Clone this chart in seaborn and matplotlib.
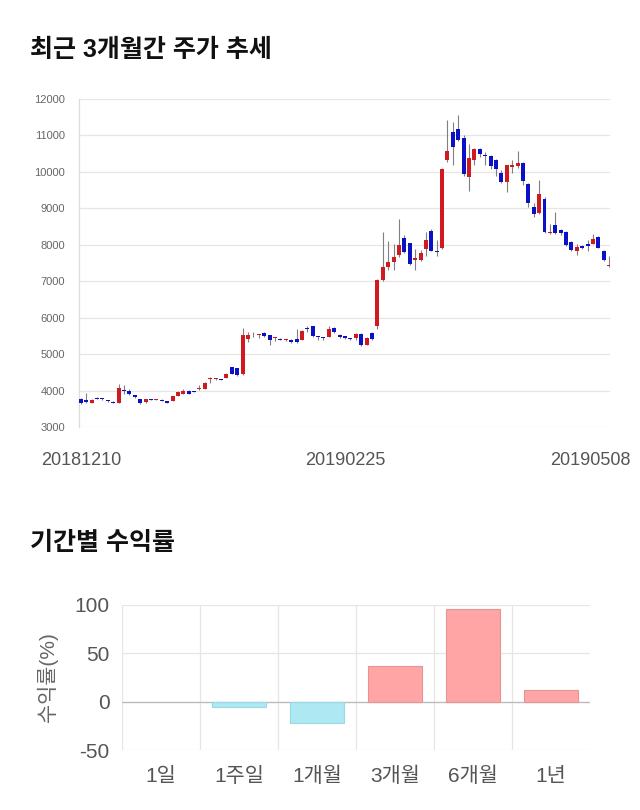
import numpy as np
import pandas as pd
import matplotlib
matplotlib.use("Agg")
import matplotlib.pyplot as plt
import seaborn as sns
from matplotlib.transforms import ScaledTranslation

# ---------------- data: daily candles (index 0 = 20181210 ... 98 = 20190508)
opens = [3770, 3740, 3670, 3800, 3790, 3730, 3690, 3660, 4020, 4000,
         3880, 3770, 3680, 3760, 3745, 3745, 3700, 3710, 3850, 3910,
         4000, 3985, 4050, 4050, 4310, 4320, 4310, 4350, 4640, 4610,
         4450, 5420, 5540, 5520, 5590, 5520, 5430, 5420, 5380, 5400,
         5410, 5390, 5700, 5760, 5490, 5460, 5470, 5720, 5530, 5500,
         5420, 5450, 5560, 5250, 5570, 5780, 7030, 7380, 7520, 7720,
         8180, 8040, 7580, 7590, 7890, 8380, 7820, 7900, 10320, 11090,
         11180, 10940, 9850, 10330, 10620, 10450, 10440, 10330, 9980, 9720,
         10140, 10160, 10240, 9670, 9030, 8870, 9260, 8330, 8530, 8400,
         8360, 8080, 7840, 7960, 8010, 8020, 8220, 7830, 7420]
highs = [3800, 3920, 3760, 3820, 3800, 3740, 3700, 4180, 4150, 4050,
         3890, 3780, 3780, 3780, 3770, 3760, 3710, 3860, 3990, 4030,
         4010, 4000, 4150, 4230, 4360, 4340, 4330, 4480, 4660, 4620,
         5710, 5600, 5600, 5560, 5610, 5530, 5480, 5440, 5420, 5420,
         5700, 5650, 5760, 5780, 5510, 5480, 5760, 5740, 5560, 5510,
         5440, 5580, 5570, 5460, 5620, 7060, 8350, 8100, 8010, 8700,
         8260, 8060, 7890, 7870, 8360, 8420, 8140, 10120, 11420, 11380,
         11560, 11000, 10760, 10650, 10660, 10550, 10460, 10350, 10050, 10200,
         10330, 10570, 10260, 9700, 9150, 9770, 9300, 8580, 8910, 8420,
         8380, 8100, 8020, 8000, 8140, 8300, 8240, 7850, 7700]
lows = [3640, 3650, 3650, 3760, 3750, 3690, 3660, 3650, 3900, 3880,
        3800, 3640, 3670, 3740, 3730, 3700, 3660, 3700, 3840, 3900,
        3900, 3950, 4020, 4040, 4200, 4300, 4280, 4340, 4450, 4400,
        4430, 5330, 5480, 5430, 5480, 5250, 5350, 5380, 5370, 5310,
        5310, 5380, 5620, 5470, 5400, 5380, 5460, 5590, 5450, 5420,
        5390, 5380, 5220, 5240, 5400, 5700, 7000, 7320, 7300, 7660,
        7770, 7450, 7300, 7550, 7680, 7830, 7700, 7880, 10270, 10190,
        10850, 9900, 9480, 10180, 10400, 10190, 10090, 9900, 9700, 9440,
        9980, 10120, 9650, 9050, 8750, 8850, 8330, 8300, 8300, 8280,
        7970, 7820, 7730, 7880, 7840, 8010, 7910, 7550, 7400]
closes = [3660, 3680, 3740, 3770, 3760, 3700, 3670, 4060, 4000, 3910,
          3820, 3660, 3770, 3745, 3755, 3710, 3670, 3850, 3960, 4000,
          3910, 3965, 4070, 4210, 4330, 4325, 4300, 4450, 4460, 4440,
          5520, 5530, 5560, 5540, 5490, 5380, 5460, 5400, 5400, 5340,
          5340, 5630, 5690, 5490, 5480, 5450, 5700, 5600, 5480, 5450,
          5410, 5560, 5250, 5430, 5410, 7040, 7390, 7520, 7660, 8000,
          7810, 7480, 7640, 7770, 8140, 7840, 7790, 10080, 10570, 10680,
          10880, 9940, 10370, 10620, 10500, 10430, 10170, 10080, 9720, 10180,
          10180, 10240, 9740, 9140, 8850, 9390, 8360, 8360, 8320, 8320,
          7990, 7860, 7950, 7920, 7970, 8160, 7920, 7580, 7440]
tick_idx = [0, 49, 98]
tick_labels = ["20181210", "20190225", "20190508"]
price_ticks = [3000, 4000, 5000, 6000, 7000, 8000, 9000, 10000, 11000, 12000]

# ---------------- data: period returns
periods = ["1일", "1주일", "1개월", "3개월", "6개월", "1년"]
returns = [0.0, -5.2, -21.6, 37.1, 95.6, 11.6]
ret_ticks = [-50, 0, 50, 100]

# ---------------- style
sns.set_style("white")
plt.rcParams['font.family'] = ['Liberation Sans', 'Noto Sans CJK KR', 'DejaVu Sans']

RED = "#D11A1F"
BLUE = "#0B12C6"
GRID = "#E6E6E6"

fig = plt.figure(figsize=(6.4, 8.1), dpi=100)
fig.patch.set_facecolor("white")

# ---------------- candlestick chart
df = pd.DataFrame({"open": opens, "high": highs, "low": lows, "close": closes})
df["idx"] = np.arange(len(df))
up = df["close"] >= df["open"]
colors = np.where(up, RED, BLUE)

ax1 = fig.add_axes([79 / 640, 1 - 427 / 810, 531 / 640, 328 / 810])
ax1.vlines(df["idx"], df["low"], df["high"], color="#808080", lw=0.8, zorder=2)
body_bottom = np.minimum(df["open"], df["close"])
body_h = np.maximum((df["close"] - df["open"]).abs(), 25)
ax1.bar(df["idx"], body_h, bottom=body_bottom, width=0.74, color=colors,
        linewidth=0, zorder=3)
ax1.set_ylim(3000, 12000)
ax1.set_xlim(-0.35, 98.15)
ax1.set_yticks(price_ticks)
ax1.set_yticklabels([str(v) for v in price_ticks])
ax1.set_xticks(tick_idx)
ax1.set_xticklabels(tick_labels)
ax1.grid(axis="y", color=GRID, lw=0.9)
ax1.grid(axis="x", visible=False)
ax1.set_axisbelow(True)
for s in ["top", "right", "bottom"]:
    ax1.spines[s].set_visible(False)
ax1.spines["left"].set_color("#DDDDDD")
ax1.spines["left"].set_linewidth(0.9)
ax1.tick_params(axis="y", length=8, width=0.9, color=GRID, labelsize=8,
                labelcolor="#666666", pad=2)
ax1.tick_params(axis="x", length=0, labelsize=13, labelcolor="#555555", pad=18)
lbls = ax1.get_xticklabels()
lbls[-1].set_transform(lbls[-1].get_transform() + ScaledTranslation(-19 / 100, 0, fig.dpi_scale_trans))
ax1.set_xlabel("")
ax1.set_ylabel("")

fig.text(30 / 640, 1 - 50 / 810, "최근 3개월간 주가 추세", fontsize=18,
         fontweight="bold", va="center", ha="left", color="#111111")
fig.text(30 / 640, 1 - 543 / 810, "기간별 수익률", fontsize=18,
         fontweight="bold", va="center", ha="left", color="#111111")

# ---------------- returns bar chart
df2 = pd.DataFrame({"period": periods, "ret": returns})
fills = ["#FFA5A5" if v >= 0 else "#AEE8F2" for v in returns]
edges = ["#E59494" if v >= 0 else "#9AD8E5" for v in returns]

ax2 = fig.add_axes([122 / 640, 1 - 750 / 810, 468 / 640, 145 / 810])
sns.barplot(data=df2, x="period", y="ret", hue="period", palette=fills,
            legend=False, width=0.7, saturation=1, ax=ax2, zorder=3)
for p, ec, v in zip(ax2.patches, edges, returns):
    p.set_edgecolor(ec)
    p.set_linewidth(0.8 if v != 0 else 0)
ax2.set_ylim(-50, 100)
ax2.set_xlim(-0.5, 5.5)
ax2.set_yticks(ret_ticks)
ax2.set_yticklabels([str(v) for v in ret_ticks])
ax2.grid(axis="y", color=GRID, lw=0.9)
ax2.set_axisbelow(True)
for b in np.arange(-0.5, 5.0, 1.0):
    ax2.axvline(b, color=GRID, lw=0.9, zorder=1)
ax2.axhline(0, color="#BBBBBB", lw=0.9, zorder=2)
ax2.set_xticks(np.arange(-0.5, 5.0, 1.0), minor=True)
ax2.tick_params(axis="x", which="minor", length=10, width=0.9, color=GRID,
                direction="out")
ax2.tick_params(axis="x", which="major", length=0, labelsize=15,
                labelcolor="#555555", pad=12)
ax2.tick_params(axis="y", length=0, labelsize=15, labelcolor="#555555", pad=9)
for s in ax2.spines.values():
    s.set_visible(False)
ax2.set_xlabel("")
ax2.set_ylabel("수익률(%)", fontsize=15, color="#666666", labelpad=12)

fig.savefig("out.png", dpi=100, facecolor="white")
